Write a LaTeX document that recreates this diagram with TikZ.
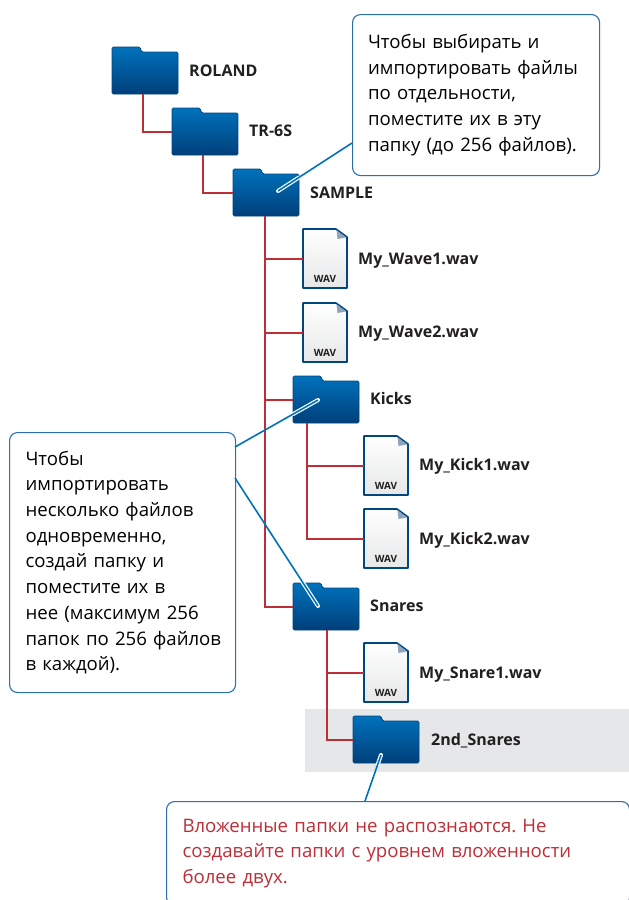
\documentclass[tikz,border=0pt]{standalone}
\usepackage{fontspec}
\setmainfont{Open Sans}
\usetikzlibrary{calc}
\frenchspacing
\definecolor{treered}{HTML}{BE2E37}
\definecolor{calloutblue}{HTML}{0072BC}
\definecolor{boxblue}{HTML}{2F6FA8}
\definecolor{folderedge}{HTML}{00467F}
\definecolor{foldertop}{HTML}{0072BC}
\definecolor{foldermid}{HTML}{0064A8}
\definecolor{folderbot}{HTML}{003F7A}
\definecolor{greyband}{HTML}{E6E7E8}
\definecolor{labeltext}{HTML}{231F20}
\definecolor{warntext}{HTML}{BE2E37}
\definecolor{foldmark}{HTML}{8FA3BC}
\tikzset{
  x=1pt,y=-1pt,
  link/.style={treered,line width=1.8pt},
  leader/.style={calloutblue,line width=1.6pt},
  halo/.style={white,line width=4pt,line cap=round},
  callout/.style={draw=boxblue,fill=white,line width=1.1pt,rounded corners=8pt,inner sep=0pt,font=\fontsize{18.6}{25.7}\selectfont},
  itemlabel/.style={anchor=base west,inner sep=0pt,text=labeltext,font=\fontsize{16}{18}\selectfont\bfseries},
  iconbox/.style={inner sep=0pt,draw=none},
}
\newcommand{\foldericon}[3]{%
  \path[shade,top color=foldertop,middle color=foldermid,bottom color=folderbot,draw=folderedge,line width=.8pt,rounded corners=1.5pt]
    (#2,#3+47) -- (#2,#3) -- (#2+28,#3) -- (#2+29.5,#3+5) -- (#2+66,#3+5) -- (#2+66,#3+47) -- cycle;
  \node[iconbox,minimum width=66pt,minimum height=47pt,anchor=north west] (#1) at (#2,#3) {};
}
\newcommand{\fileicon}[3]{%
  \path[shade,top color=white,bottom color=greyband,draw=folderedge,line width=1.6pt,line join=round]
    (#2,#3) -- (#2+33,#3) -- (#2+44,#3+8) -- (#2+44,#3+59) -- (#2,#3+59) -- cycle;
  \fill[foldmark] (#2+33.5,#3+1) -- (#2+43,#3+8.5) -- (#2+34.5,#3+10) -- cycle;
  \node[iconbox,minimum width=44pt,minimum height=59pt,anchor=north west] (#1) at (#2,#3) {};
  \node[inner sep=0pt,anchor=base,text=labeltext,font=\fontsize{10}{12}\selectfont\bfseries] (#1wav) at (#2+22,#3+53) {WAV};
}
\begin{document}
\begin{tikzpicture}
\clip (0,0) rectangle (629,900);
\fill[white] (0,0) rectangle (629,900);
\fill[greyband] (305,709) rectangle (629,772);

\foldericon{roland}{112}{47}
\foldericon{tr}{172}{108}
\foldericon{sample}{233}{169}
\foldericon{kicks}{293}{376}
\foldericon{snares}{293}{583}
\foldericon{second}{353}{716}
\fileicon{wavea}{303}{229}
\fileicon{waveb}{303}{303}
\fileicon{kicka}{364}{436}
\fileicon{kickb}{364}{509}
\fileicon{snarea}{364}{643}

% tree links
\draw[link] ([xshift=-2pt]roland.south) |- (tr.west);
\draw[link] ([xshift=-2pt]tr.south) |- (sample.west);
\draw[link] ([xshift=-1pt]sample.south) |- (snares.west);
\draw[link] ([xshift=-1pt]sample.south) |- (wavea.west);
\draw[link] ([xshift=-1pt]sample.south) |- (waveb.west);
\draw[link] ([xshift=-1pt]sample.south) |- (kicks.west);
\draw[link] ([xshift=-19pt]kicks.south) |- (kicka.west);
\draw[link] ([xshift=-19pt]kicks.south) |- (kickb.west);
\draw[link] ([xshift=1pt]snares.south) |- (snarea.west);
\draw[link] ([xshift=1pt]snares.south) |- (second.west);

% labels
\node[itemlabel] (lroland) at (189,76.5) {ROLAND};
\node[itemlabel] (ltr) at (249,136.5) {TR-6S};
\node[itemlabel] (lsample) at (310,198.5) {SAMPLE};
\node[itemlabel] (lwavea) at (358,264.5) {My\_Wave1.wav};
\node[itemlabel] (lwaveb) at (358,337.5) {My\_Wave2.wav};
\node[itemlabel] (lkicks) at (370,404.5) {Kicks};
\node[itemlabel] (lkicka) at (419,470.5) {My\_Kick1.wav};
\node[itemlabel] (lkickb) at (419,544.5) {My\_Kick2.wav};
\node[itemlabel] (lsnares) at (370,611.5) {Snares};
\node[itemlabel] (lsnarea) at (419,678.5) {My\_Snare1.wav};
\node[itemlabel] (lsecond) at (431,745.5) {2nd\_Snares};

% callouts
\node[callout,minimum width=247pt,minimum height=161pt,anchor=north west,align=left,text width=216pt] (ctop) at (352,14)
  {Чтобы выбирать и\\импортировать файлы\\по отдельности,\\поместите их в эту\\папку (до 256 файлов).};
\node[callout,minimum width=226pt,minimum height=260pt,anchor=north west,align=left,text width=194pt] (cleft) at (9,432)
  {Чтобы\\импортировать\\несколько файлов\\одновременно,\\создай папку и\\поместите их в\\нее (максимум 256\\\makebox[194pt][l]{папок по 256 файлов}\\в каждой).};
\node[callout,minimum width=463pt,minimum height=104pt,anchor=north west,align=left,text width=431pt,text=warntext] (cbot) at (166,801)
  {Вложенные папки не распознаются. Не\\создавайте папки с уровнем вложенности\\более двух.};

% leaders
\coordinate (endsample) at (278,191);
\coordinate (endkicks) at (318,400);
\coordinate (endsnares) at (318,606);
\coordinate (endsecond) at (381,755);
\coordinate (starttop) at (352,143);
\coordinate (startkicks) at (235,447);
\coordinate (startsnares) at (235,478);
\coordinate (startbot) at (365,801);

\draw[halo] (endsample) -- ($(endsample)!.28!(starttop)$);
\draw[halo] (endkicks) -- ($(endkicks)!.3!(startkicks)$);
\draw[halo] (endsnares) -- ($(endsnares)!.3!(startsnares)$);
\draw[halo] (endsecond) -- ($(endsecond)!.2!(startbot)$);
\draw[leader] (starttop) -- (endsample);
\draw[leader] (startkicks) -- (endkicks);
\draw[leader] (startsnares) -- (endsnares);
\draw[leader] (startbot) -- (endsecond);
\end{tikzpicture}
\end{document}
